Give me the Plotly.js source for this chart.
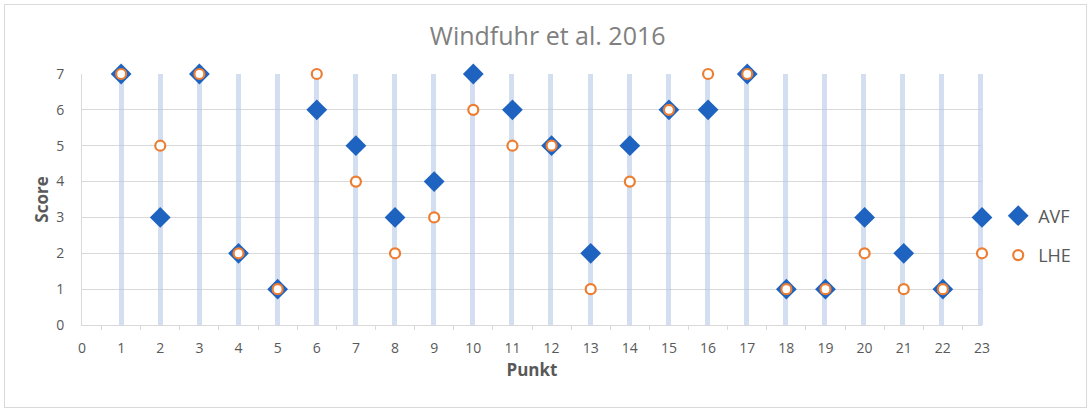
<!DOCTYPE html>
<html><head><meta charset="utf-8">
<script src="https://cdn.plot.ly/plotly-3.0.1.min.js"></script>
<style>
html,body{margin:0;padding:0;background:#fff;}
#wrap{position:relative;width:1091px;height:412px;}
#chart{width:1091px;height:412px;}
#frame{position:absolute;left:4px;top:4px;width:1081px;height:402px;border:1px solid #d9d9d9;pointer-events:none;}
</style></head>
<body>
<div id="wrap"><div id="chart"></div><div id="frame"></div></div>
<script>
const punkt = [1,2,3,4,5,6,7,8,9,10,11,12,13,14,15,16,17,18,19,20,21,22,23];
const avf   = [7,3,7,2,1,6,5,3,4,7,6,5,2,5,6,6,7,1,1,3,2,1,3];
const lhe   = [7,5,7,2,1,7,4,2,3,6,5,5,1,4,6,7,7,1,1,2,1,1,2];
const xTicks = [0].concat(punkt);
const yTicks = [0,1,2,3,4,5,6,7];

const fontFam = '"Open Sans", "Liberation Sans", sans-serif';
const traces = [
  // empty helper trace that only activates the overlay axis carrying the blue vertical lines
  {x: [], y: [], type: 'scatter', mode: 'markers', xaxis: 'x2', showlegend: false, hoverinfo: 'skip'},
  {x: punkt, y: avf, name: 'AVF', type: 'scatter', mode: 'markers', cliponaxis: false,
   legendgroup: 'a',
   marker: {symbol: 'diamond', size: 16, color: '#1f63c1', line: {color: '#1f63c1', width: 0}}},
  {x: punkt, y: lhe, name: 'LHE', type: 'scatter', mode: 'markers', cliponaxis: false,
   legendgroup: 'b',
   marker: {symbol: 'circle', size: 10, color: '#ffffff', line: {color: '#ed7d31', width: 2.2}}}
];

const layout = {
  width: 1091, height: 412,
  margin: {l: 82, r: 109, t: 74, b: 87},
  paper_bgcolor: '#ffffff', plot_bgcolor: '#ffffff',
  font: {family: fontFam, color: '#595959'},
  title: {text: 'Windfuhr et al. 2016', font: {size: 25, color: '#808080', family: fontFam},
          x: 0.502, xanchor: 'center', y: 0.9126, yref: 'container', yanchor: 'middle'},
  xaxis: {range: [0, 23], tickvals: xTicks, ticktext: xTicks.map(String),
          showgrid: false, zeroline: false, showline: true, linecolor: '#d9d9d9', linewidth: 1,
          ticks: 'outside', ticklen: 10, tickcolor: 'rgba(0,0,0,0)',
          minor: {tick0: 0.5, dtick: 1, ticks: 'outside', ticklen: 4, tickcolor: '#d9d9d9', showgrid: false},
          tickfont: {size: 14, color: '#595959'},
          title: {text: 'Punkt', font: {size: 17, color: '#595959', family: fontFam, weight: 'bold'}, standoff: 8}},
  xaxis2: {range: [0, 23.03], overlaying: 'x', tickvals: punkt, showticklabels: false,
           showgrid: true, gridcolor: 'rgba(182,200,232,0.6)', gridwidth: 5, zeroline: false,
           showline: false, ticks: ''},
  yaxis: {range: [0, 7], tickvals: yTicks, showgrid: true, gridcolor: '#d9d9d9', gridwidth: 1,
          zeroline: false, showline: true, linecolor: '#d9d9d9', linewidth: 1,
          ticks: 'outside', ticklen: 14, tickcolor: 'rgba(0,0,0,0)',
          tickfont: {size: 14, color: '#595959'},
          title: {text: 'Score', font: {size: 17, color: '#595959', family: fontFam, weight: 'bold'}, standoff: 3}},
  showlegend: true,
  legend: {x: 1.018, xanchor: 'left', y: 0.508, yanchor: 'top', traceorder: 'grouped',
           tracegroupgap: 13, font: {size: 18, color: '#595959', family: fontFam},
           bgcolor: 'rgba(0,0,0,0)', itemwidth: 30}
};
Plotly.newPlot('chart', traces, layout, {displayModeBar: false, staticPlot: true});
</script>
</body></html>
